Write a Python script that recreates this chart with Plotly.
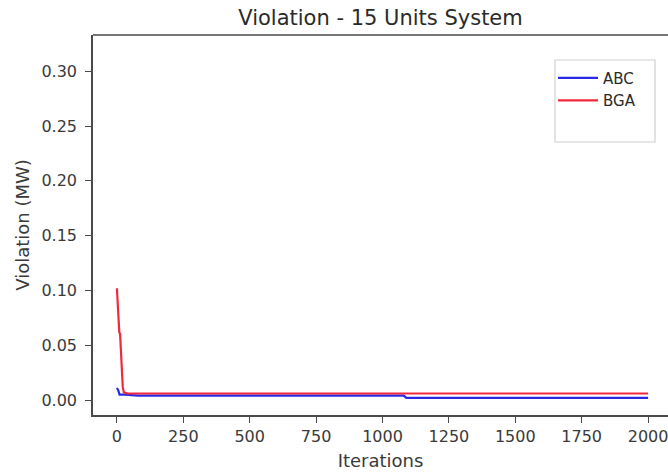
import plotly.graph_objects as go

# ABC convergence (iteration, violation MW)
abc_iter = [0, 5, 10, 30, 80, 300, 1080, 1090, 1500, 2000]
abc_viol = [0.011, 0.009, 0.005, 0.005, 0.004, 0.004, 0.004, 0.002, 0.002, 0.002]

# BGA convergence (iteration, violation MW)
bga_iter = [0, 3, 6, 9, 12, 15, 18, 22, 26, 40, 100, 500, 1000, 1500, 2000]
bga_viol = [0.102, 0.085, 0.066, 0.062, 0.060, 0.040, 0.021, 0.012, 0.007, 0.006, 0.006, 0.006, 0.006, 0.006, 0.006]

x_ticks = [0, 250, 500, 750, 1000, 1250, 1500, 1750, 2000]
y_ticks = [0.00, 0.05, 0.10, 0.15, 0.20, 0.25, 0.30]
y_tick_text = ["0.00", "0.05", "0.10", "0.15", "0.20", "0.25", "0.30"]

fig = go.Figure()
fig.add_trace(go.Scatter(x=abc_iter, y=abc_viol, mode="lines", name="ABC",
                         line=dict(color="#2a2ae6", width=2.2)))
fig.add_trace(go.Scatter(x=bga_iter, y=bga_viol, mode="lines", name="BGA",
                         line=dict(color="#f02a3a", width=2.2)))

font = "DejaVu Sans, sans-serif"
axcol = "#4a4a4a"
fig.update_layout(
    width=668, height=475,
    margin=dict(l=93, r=0, t=35, b=60),
    paper_bgcolor="white", plot_bgcolor="white",
    font=dict(family=font, size=16, color="#3a3a3a"),
    title=dict(text="Violation - 15 Units System", x=0.5, xanchor="center",
               y=1 - 18 / 475, yanchor="middle", xref="paper",
               font=dict(size=21, color="#2a2a2a")),
    xaxis=dict(range=[-90, 2075], tickvals=x_ticks, ticks="outside", ticklen=6,
               tickcolor=axcol, showgrid=False, zeroline=False,
               showline=True, linecolor=axcol, linewidth=1.5,
               ticklabeloverflow="allow",
               title=dict(text="Iterations", standoff=9, font=dict(size=18))),
    yaxis=dict(range=[-0.0136, 0.333], tickvals=y_ticks, ticktext=y_tick_text,
               ticks="outside", ticklen=6, tickcolor=axcol, showgrid=False,
               zeroline=False, showline=True, linecolor=axcol, linewidth=1.5,
               ticklabelstandoff=5,
               title=dict(text="Violation (MW)", standoff=7, font=dict(size=18))),
    legend=dict(x=0.8, y=0.93, xanchor="left", yanchor="top",
                borderwidth=0, bgcolor="rgba(0,0,0,0)", itemwidth=40,
                font=dict(size=15, color="#2a2a2a"), tracegroupgap=0),
    showlegend=True,
)
# top spine
fig.add_shape(type="line", xref="paper", yref="paper", x0=0, x1=1, y0=1, y1=1,
              line=dict(color=axcol, width=1.5))
# legend frame
fig.add_shape(type="rect", xref="paper", yref="paper",
              x0=(555 - 93) / 575, x1=(655 - 93) / 575,
              y0=(415 - 142) / 380, y1=(415 - 60) / 380,
              line=dict(color="#d0d0d0", width=1.2), fillcolor="white", layer="below")
fig.write_html("out.html")
